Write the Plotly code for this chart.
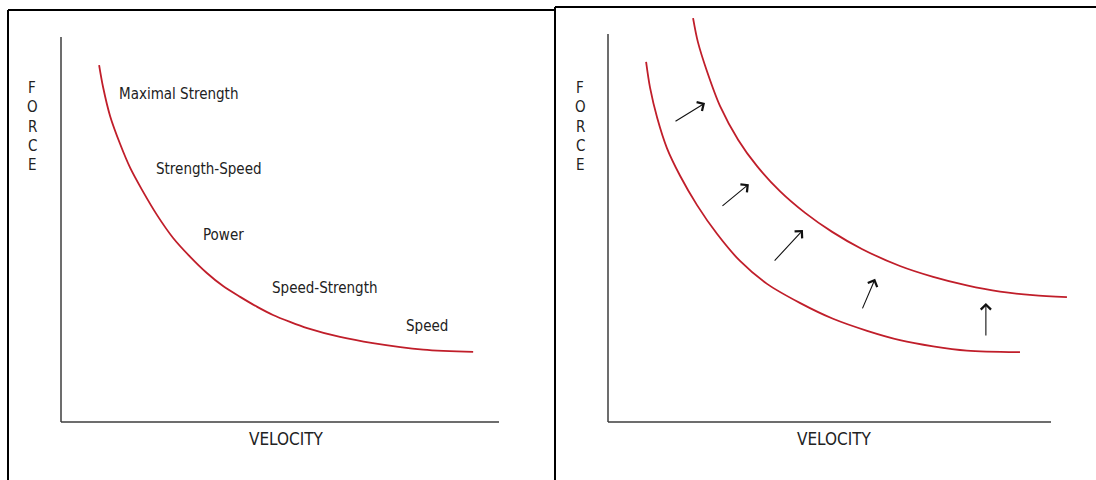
import plotly.graph_objects as go

# ---------------- data (arbitrary units; axis length = 100) -------------
# left panel: force-velocity curve
velocity_a = [8.7, 9.6, 11.2, 13.5, 15.8, 18.5, 21.9, 25.6, 29.5, 33.3, 37.0, 40.9, 44.8, 48.4,
              52.3, 56.2, 63.7, 71.2, 82.7, 94.1]
force_a = [92.7, 87.0, 79.5, 72.2, 66.0, 60.3, 53.8, 47.8, 42.9, 38.7, 35.3, 32.5, 29.9, 27.8,
           26.0, 24.4, 22.1, 20.5, 18.8, 18.2]

phase_labels = ["Maximal Strength", "Strength-Speed", "Power", "Speed-Strength", "Speed"]
phase_v = [26.9, 33.8, 37.2, 60.3, 83.6]
phase_f = [85.2, 65.7, 48.6, 34.8, 24.9]

# right panel: curve before and after training
velocity_before = [8.6, 9.5, 11.1, 13.3, 16.3, 20.1, 24.6, 29.8, 35.9, 43.3, 50.8, 58.5, 65.9,
                   73.4, 81.0, 93.0]
force_before = [92.8, 86.1, 78.4, 70.6, 63.4, 55.9, 48.5, 41.5, 35.6, 30.7, 26.6, 23.5, 21.1,
                19.5, 18.4, 18.0]

velocity_after = [19.2, 20.3, 22.4, 25.3, 29.4, 33.6, 38.8, 44.5, 50.6, 57.3, 65.9, 73.4, 81.0,
                  88.5, 95.9, 103.6]
force_after = [104.1, 97.9, 90.2, 81.4, 72.7, 66.0, 59.5, 53.9, 49.0, 44.6, 40.2, 37.4, 35.2,
               33.6, 32.7, 32.2]

shift_from_v = [14.9, 25.5, 37.3, 57.3, 85.3]
shift_from_f = [77.3, 55.4, 41.2, 28.9, 21.9]
shift_to_v = [21.9, 31.8, 44.0, 60.3, 85.3]
shift_to_f = [82.2, 61.3, 49.5, 36.9, 30.7]

x_title = "VELOCITY"
y_title = "FORCE"

# ---------------- layout geometry (pixels) ----------------
W, H = 1096, 480
SPAN = 100.0
panels = [
    dict(ox=61, xend=499, oy=422, ytop=37, left=0, right=555, title_x=286, force_x=32),
    dict(ox=608, xend=1051, oy=422, ytop=34, left=555, right=1096, title_x=834, force_x=580),
]
TITLE_Y = 439
FORCE_Y0, FORCE_DY = 88, 19.3

RED = "rgb(192,30,42)"
AXIS = "#3c3c3c"
TEXT = "#222222"
FONT = "Liberation Sans Narrow, DejaVu Sans Condensed, DejaVu Sans, sans-serif"


def v_of(p, px):
    return (px - p["ox"]) / (p["xend"] - p["ox"]) * SPAN


def f_of(p, py):
    return (p["oy"] - py) / (p["oy"] - p["ytop"]) * SPAN


fig = go.Figure()

curve_sets = [
    [(velocity_a, force_a)],
    [(velocity_before, force_before), (velocity_after, force_after)],
]

annotations = []
shapes = []
for i, p in enumerate(panels):
    sfx = "" if i == 0 else str(i + 1)
    xa, ya = "x" + sfx, "y" + sfx
    fig.update_layout(**{
        "xaxis" + sfx: dict(domain=[p["left"] / W, p["right"] / W],
                            range=[v_of(p, p["left"]), v_of(p, p["right"])],
                            visible=False, fixedrange=True),
        "yaxis" + sfx: dict(domain=[0, 1],
                            range=[f_of(p, H), f_of(p, 0)],
                            visible=False, fixedrange=True),
    })
    for vx, fy in curve_sets[i]:
        fig.add_trace(go.Scatter(x=vx, y=fy, mode="lines", xaxis=xa, yaxis=ya,
                                 line=dict(color=RED, width=1.8, shape="spline", smoothing=0.9),
                                 hoverinfo="skip", showlegend=False))
    # axis lines
    shapes.append(dict(type="line", xref=xa, yref=ya, x0=0, y0=0, x1=0, y1=SPAN,
                       line=dict(color=AXIS, width=1.5)))
    shapes.append(dict(type="line", xref=xa, yref=ya, x0=0, y0=0, x1=SPAN, y1=0,
                       line=dict(color=AXIS, width=1.5)))
    # axis titles
    annotations.append(dict(xref=xa, yref=ya, x=v_of(p, p["title_x"]), y=f_of(p, TITLE_Y),
                            text=x_title, showarrow=False, xanchor="center", yanchor="middle",
                            font=dict(family=FONT, size=17, color=TEXT)))
    for k, ch in enumerate(y_title):
        annotations.append(dict(xref=xa, yref=ya, x=v_of(p, p["force_x"]),
                                y=f_of(p, FORCE_Y0 + k * FORCE_DY),
                                text=ch, showarrow=False, xanchor="center", yanchor="middle",
                                font=dict(family=FONT, size=15, color=TEXT)))

# phase labels (left panel)
for lab, vx, fy in zip(phase_labels, phase_v, phase_f):
    annotations.append(dict(xref="x", yref="y", x=vx, y=fy, text=lab, showarrow=False,
                            xanchor="center", yanchor="middle",
                            font=dict(family=FONT, size=15, color=TEXT)))

# shift arrows (right panel)
for a, b, c, d in zip(shift_from_v, shift_from_f, shift_to_v, shift_to_f):
    annotations.append(dict(xref="x2", yref="y2", axref="x2", ayref="y2",
                            x=c, y=d, ax=a, ay=b, text="", showarrow=True,
                            arrowhead=4, arrowsize=1.8, arrowwidth=1.1,
                            arrowcolor="#111111", standoff=0, startstandoff=0))

# panel borders
BK = dict(color="#000000", width=2)
shapes += [
    dict(type="line", xref="paper", yref="paper", x0=8 / W, x1=8 / W, y0=0, y1=1 - 10 / H, line=BK),
    dict(type="line", xref="paper", yref="paper", x0=8 / W, x1=555 / W, y0=1 - 10 / H, y1=1 - 10 / H, line=BK),
    dict(type="line", xref="paper", yref="paper", x0=555 / W, x1=555 / W, y0=0, y1=1 - 7 / H, line=BK),
    dict(type="line", xref="paper", yref="paper", x0=555 / W, x1=1, y0=1 - 7 / H, y1=1 - 7 / H, line=BK),
]

fig.update_layout(width=W, height=H, margin=dict(l=0, r=0, t=0, b=0),
                  paper_bgcolor="white", plot_bgcolor="white",
                  annotations=annotations, shapes=shapes, showlegend=False)

fig.write_html("out.html", config={"displayModeBar": False},
               post_script="document.body.style.margin='0';document.body.style.overflow='hidden';")
